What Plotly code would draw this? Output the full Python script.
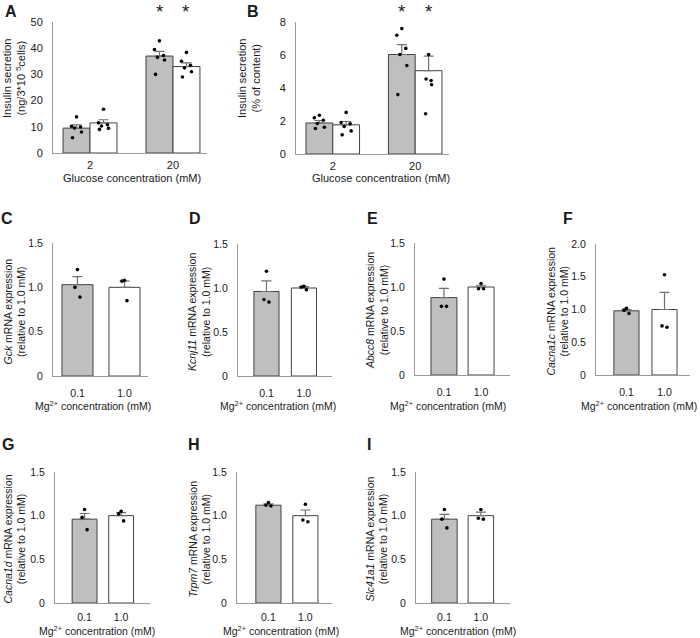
import plotly.graph_objects as go

FIG_W, FIG_H = 700, 638
FONT = "Liberation Sans, Arial, sans-serif"
GRAY = "#bfbfbf"
TXT = "#1a1a1a"
AXC = "#9a9a9a"
EDGE = "#404040"
ERRC = "#707070"

# ------------------------- data -------------------------
glucose_ticks = ["2", "20"]
mg_ticks = ["0.1", "1.0"]

# Panel A: insulin secretion (ng/3*10^5 cells); gray = 0.1 mM Mg, white = 1.0 mM Mg
a_gray_mean = [9.5, 37.0]
a_gray_sem = [1.2, 1.8]
a_white_mean = [11.5, 33.0]
a_white_sem = [1.2, 1.4]
a_gray_pts = [[13.8, 10.2, 9.9, 9.5, 8.0, 5.8], [42.8, 39.5, 37.2, 36.5, 35.5, 30.0]]
a_white_pts = [[16.7, 11.5, 10.8, 10.3, 9.4, 9.0], [38.4, 35.0, 33.5, 32.5, 31.0, 29.0]]

# Panel B: insulin secretion (% of content)
b_gray_mean = [1.88, 6.03]
b_gray_sem = [0.15, 0.6]
b_white_mean = [1.77, 5.05]
b_white_sem = [0.2, 0.88]
b_gray_pts = [[2.35, 2.2, 2.05, 1.85, 1.62, 1.55], [7.6, 7.2, 6.4, 6.03, 5.36, 3.6]]
b_white_pts = [[2.52, 1.91, 1.83, 1.67, 1.4, 1.16], [6.03, 4.55, 4.45, 4.2, 2.44]]

# Panels C-I: mRNA expression relative to 1.0 mM (0.1 mM, 1.0 mM)
genes = ["Gck", "Kcnj11", "Abcc8", "Cacna1c", "Cacna1d", "Trpm7", "Slc41a1"]
gck_mean = [1.03, 1.00]
gck_sem = [0.09, 0.07]
gck_pts = [[1.20, 1.00, 0.89], [1.08, 1.07, 0.85]]
kcnj11_mean = [0.96, 1.00]
kcnj11_sem = [0.12, 0.015]
kcnj11_pts = [[1.19, 0.87, 0.84], [1.02, 1.01, 0.98]]
abcc8_mean = [0.88, 1.00]
abcc8_sem = [0.105, 0.02]
abcc8_pts = [[1.09, 0.78, 0.78], [1.04, 0.98, 0.98]]
cacna1c_mean = [0.98, 1.00]
cacna1c_sem = [0.02, 0.26]
cacna1c_pts = [[1.02, 0.99, 0.94], [1.53, 0.75, 0.73]]
cacna1d_mean = [0.96, 1.00]
cacna1d_sem = [0.065, 0.035]
cacna1d_pts = [[1.07, 0.98, 0.84], [1.05, 1.02, 0.94]]
trpm7_mean = [1.12, 1.00]
trpm7_sem = [0.015, 0.065]
trpm7_pts = [[1.15, 1.12, 1.11], [1.13, 0.95, 0.93]]
slc41a1_mean = [0.96, 1.00]
slc41a1_sem = [0.055, 0.04]
slc41a1_pts = [[1.07, 0.96, 0.86], [1.07, 0.97, 0.96]]

mg_means = [gck_mean, kcnj11_mean, abcc8_mean, cacna1c_mean, cacna1d_mean, trpm7_mean, slc41a1_mean]
mg_sems = [gck_sem, kcnj11_sem, abcc8_sem, cacna1c_sem, cacna1d_sem, trpm7_sem, slc41a1_sem]
mg_pts = [gck_pts, kcnj11_pts, abcc8_pts, cacna1c_pts, cacna1d_pts, trpm7_pts, slc41a1_pts]

# ------------------------- layout helpers -------------------------
def px(x):
    return x / FIG_W

def py(y):
    return 1 - y / FIG_H

fig = go.Figure()
layout = dict(
    width=FIG_W, height=FIG_H, margin=dict(l=0, r=0, t=0, b=0, autoexpand=False),
    paper_bgcolor="white", plot_bgcolor="white", showlegend=False,
    barmode="overlay", font=dict(family=FONT, color=TXT, size=11),
    annotations=[],
)

def axis_common():
    return dict(showline=True, linecolor=AXC, linewidth=1, ticks="", showgrid=False,
                zeroline=False, fixedrange=True, automargin=False)

def add_axes(i, xd, yd, xr, yr, yvals, ytext, xticks, xstand, fsize):
    xs = "xaxis" if i == 1 else f"xaxis{i}"
    ys = "yaxis" if i == 1 else f"yaxis{i}"
    xref = "x" if i == 1 else f"x{i}"
    yref = "y" if i == 1 else f"y{i}"
    xa = axis_common()
    xa.update(domain=[px(xd[0]), px(xd[1])], range=xr, anchor=yref,
              tickvals=[0, 1], ticktext=xticks, ticklabelstandoff=xstand,
              tickfont=dict(size=fsize, family=FONT, color=TXT))
    ya = axis_common()
    ya.update(domain=[py(yd[1]), py(yd[0])], range=yr, anchor=xref,
              tickvals=yvals, ticktext=ytext, ticklabelstandoff=7,
              tickfont=dict(size=fsize, family=FONT, color=TXT))
    layout[xs] = xa
    layout[ys] = ya
    return xref, yref

def jitter_px(n):
    pat6 = [0, -5, 4, -2, 5, -4]
    pat3 = [0, -2.5, 2.5]
    pat5 = [0, -2.5, 2.5, 3, -3]
    if n == 3:
        return pat3
    if n == 5:
        return pat5
    return pat6[:n]

def add_bar_panel(xref, yref, centers, means, sems, color, width, pts, unit_px):
    fig.add_trace(go.Bar(
        x=centers, y=means, width=width, xaxis=xref, yaxis=yref,
        marker=dict(color=color, line=dict(color=EDGE, width=1)),
        error_y=dict(type="data", array=sems, arrayminus=[0] * len(sems), symmetric=False,
                     color=ERRC, thickness=1.2, width=5),
        hoverinfo="skip",
    ))
    xs, ys = [], []
    for c, grp in zip(centers, pts):
        jp = jitter_px(len(grp))
        for v, j in zip(grp, jp):
            xs.append(c + j / unit_px)
            ys.append(v)
    fig.add_trace(go.Scatter(
        x=xs, y=ys, mode="markers", xaxis=xref, yaxis=yref,
        marker=dict(color="black", size=3.6), hoverinfo="skip", cliponaxis=False,
    ))

def ann(x, y, text, size=11, angle=0, bold=False, xanchor="center", yanchor="middle"):
    t = f"<b>{text}</b>" if bold else text
    layout["annotations"].append(dict(
        x=px(x), y=py(y), xref="paper", yref="paper", text=t, showarrow=False,
        textangle=angle, xanchor=xanchor, yanchor=yanchor,
        font=dict(family=FONT, size=size, color=TXT),
    ))

# ------------------------- panels A & B -------------------------
half = 0.325
grp_range = [-0.446, 1.41]

# A
xa_ref, ya_ref = add_axes(1, (53, 207), (22, 153), grp_range, [0, 50],
                          [0, 10, 20, 30, 40, 50], ["0", "10", "20", "30", "40", "50"],
                          glucose_ticks, 2, 11)
unitA = (207 - 53) / (grp_range[1] - grp_range[0])
add_bar_panel(xa_ref, ya_ref, [g - half / 2 for g in (0, 1)], a_gray_mean, a_gray_sem, GRAY, half, a_gray_pts, unitA)
add_bar_panel(xa_ref, ya_ref, [g + half / 2 for g in (0, 1)], a_white_mean, a_white_sem, "white", half, a_white_pts, unitA)

# B
xb_ref, yb_ref = add_axes(2, (296, 449), (22, 154), grp_range, [0, 8],
                          [0, 2, 4, 6, 8], ["0", "2", "4", "6", "8"],
                          glucose_ticks, 2, 11)
unitB = (449 - 296) / (grp_range[1] - grp_range[0])
add_bar_panel(xb_ref, yb_ref, [g - half / 2 for g in (0, 1)], b_gray_mean, b_gray_sem, GRAY, half, b_gray_pts, unitB)
add_bar_panel(xb_ref, yb_ref, [g + half / 2 for g in (0, 1)], b_white_mean, b_white_sem, "white", half, b_white_pts, unitB)

# stars over 20 mM bars
for xr_ in ("x", "x2"):
    for xc in (1 - half / 2, 1 + half / 2):
        layout["annotations"].append(dict(x=xc, y=py(12), xref=xr_, yref="paper", text="*",
                                          showarrow=False, yanchor="middle",
                                          font=dict(family=FONT, size=19, color=TXT)))

ann(132, 178, "Glucose concentration (mM)")
ann(381, 178, "Glucose concentration (mM)")
ann(14, 78, "Insulin secretion<br>(ng/3*10 <sup>5</sup>cells)", angle=-90)
ann(249, 78, "Insulin secretion<br>(% of content)", angle=-90)
ann(11, 12, "A", size=16, bold=True)
ann(253, 12, "B", size=16, bold=True)

# ------------------------- panels C-I -------------------------
panel_letters = ["C", "D", "E", "F", "G", "H", "I"]
panel_x = [(53, 148), (238, 332), (415, 510), (596, 690), (55, 150), (237, 332), (416, 510)]
panel_y = [(243, 376), (244, 376), (243, 375), (244, 375), (472, 603), (472, 603), (472, 603)]
panel_xr = [[-0.52, 1.5], [-0.76, 1.75], [-0.78, 1.78], [-0.8, 1.67],
            [-0.81, 1.79], [-0.85, 1.72], [-0.78, 1.8]]
panel_bw = [0.66, 0.67, 0.7, 0.66, 0.68, 0.68, 0.7]
ytitle_x = [14, 199, 377, 557, 14, 199, 376]
xtitle_x = [93, 278, 448, 699, 97, 281, 458]
letter_xy = [(7, 218), (195, 218), (372, 218), (568, 218), (8, 444), (194, 444), (369, 444)]

for k in range(7):
    i = k + 3
    ymax = 2.0 if genes[k] == "Cacna1c" else 1.5
    yv = [0, 0.5, 1.0, 1.5, 2.0] if ymax == 2.0 else [0, 0.5, 1.0, 1.5]
    yt = ["0", "0.5", "1.0", "1.5", "2.0"][:len(yv)]
    row3 = k >= 4
    fs = 10.5
    xref, yref = add_axes(i, panel_x[k], panel_y[k], panel_xr[k], [0, ymax], yv, yt,
                          mg_ticks, 4 if row3 else 7, fs)
    unit = (panel_x[k][1] - panel_x[k][0]) / (panel_xr[k][1] - panel_xr[k][0])
    add_bar_panel(xref, yref, [0], [mg_means[k][0]], [mg_sems[k][0]], GRAY, panel_bw[k], [mg_pts[k][0]], unit)
    add_bar_panel(xref, yref, [1], [mg_means[k][1]], [mg_sems[k][1]], "white", panel_bw[k], [mg_pts[k][1]], unit)
    ymid = (panel_y[k][0] + panel_y[k][1]) / 2 + 2
    ann(ytitle_x[k], ymid, f"<i>{genes[k]}</i> mRNA expression<br>(relative to 1.0 mM)", size=fs, angle=-90)
    if row3:
        ann(xtitle_x[k], 639, "Mg<sup>2+</sup> concentration (mM)", size=fs, yanchor="bottom")
    elif genes[k] == "Cacna1c":
        ann(xtitle_x[k], 405, "Mg<sup>2+</sup> concentration (mM)", size=fs, xanchor="right")
    else:
        ann(xtitle_x[k], 405, "Mg<sup>2+</sup> concentration (mM)", size=fs)
    ann(letter_xy[k][0], letter_xy[k][1], panel_letters[k], size=16, bold=True)

fig.update_layout(**layout)
fig.write_html("out.html", config={"displayModeBar": False, "staticPlot": True},
               post_script="document.body.style.margin='0px';document.body.style.overflow='hidden';")
